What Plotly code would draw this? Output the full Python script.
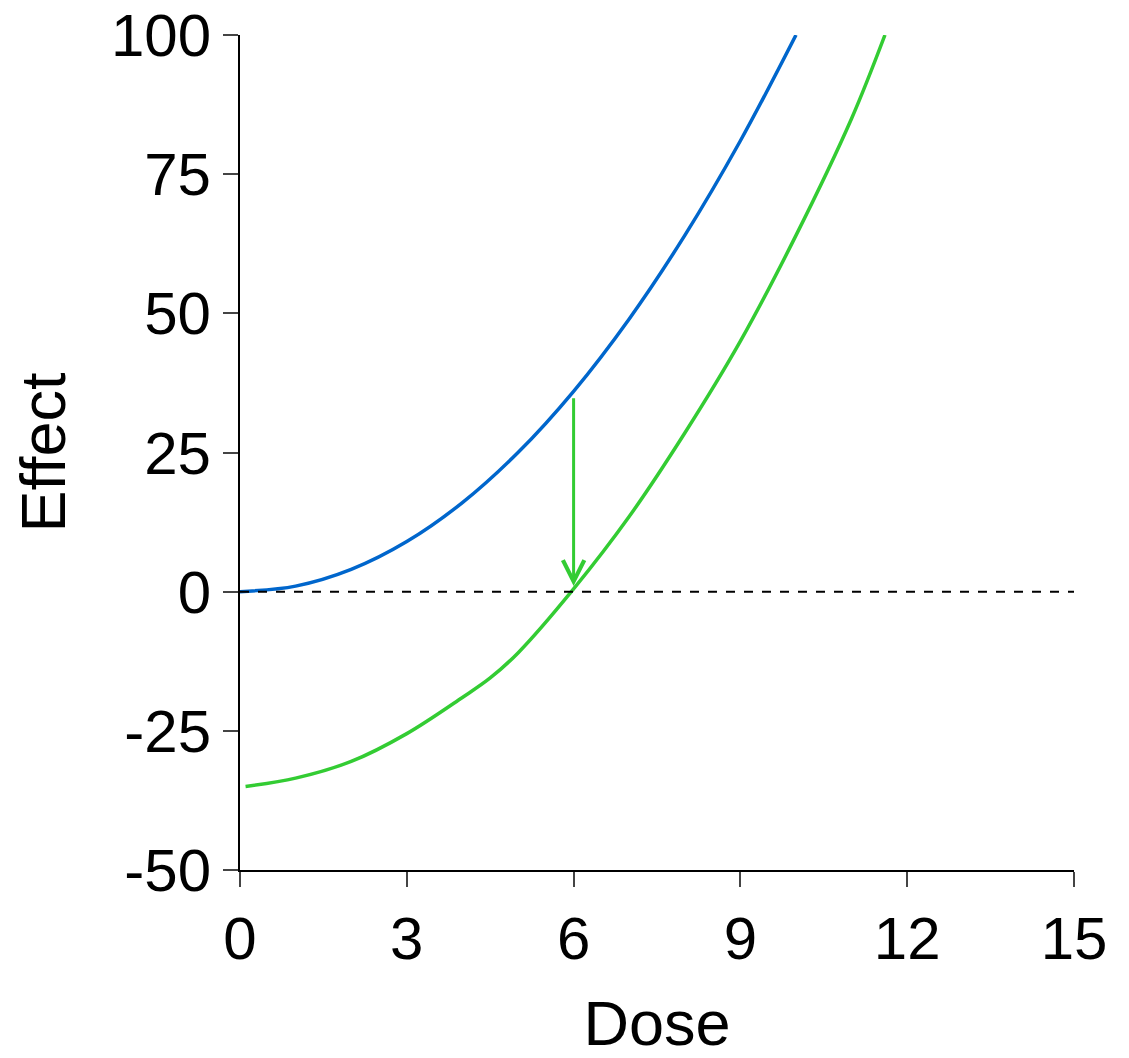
import plotly.graph_objects as go

# Data
blue_dose = [0, 1, 2, 3, 4, 5, 6, 7, 8, 9, 10]
blue_effect = [0, 1, 4, 9, 16, 25, 36, 49, 64, 81, 100]

green_dose = [0.1, 1, 2, 3, 4, 4.5, 5, 6, 7, 8, 9, 10, 11, 11.6]
green_effect = [-35, -33.5, -30.5, -25.5, -19, -15.5, -11, 0.5, 13.5, 28.5, 45, 64, 85, 100]

arrow_x = 6
arrow_from = 35
arrow_to = 1

x_ticks = [0, 3, 6, 9, 12, 15]
y_ticks = [-50, -25, 0, 25, 50, 75, 100]
y_tick_labels = ["-50", "-25", "0", "25", "50", "75", "100"]

FONT = "Liberation Sans, Arial, sans-serif"

fig = go.Figure()
fig.add_trace(go.Scatter(x=blue_dose, y=blue_effect, mode="lines",
                         line=dict(color="#0066CC", width=3.5, shape="spline"),
                         showlegend=False, hoverinfo="skip"))
fig.add_trace(go.Scatter(x=green_dose, y=green_effect, mode="lines",
                         line=dict(color="#33CC33", width=3.5, shape="spline"),
                         showlegend=False, hoverinfo="skip"))

fig.add_shape(type="line", x0=0, x1=15, y0=0, y1=0, xref="x", yref="y",
              line=dict(color="black", width=2, dash="dash"))

fig.add_annotation(x=arrow_x, y=arrow_to, ax=arrow_x, ay=arrow_from,
                   xref="x", yref="y", axref="x", ayref="y",
                   showarrow=True, arrowhead=5, arrowsize=1.4, arrowwidth=3,
                   arrowcolor="#33CC33", text="")

fig.update_layout(
    width=1121, height=1050,
    margin=dict(l=232, r=55, t=27, b=188),
    plot_bgcolor="white", paper_bgcolor="white",
    font=dict(family=FONT, size=60, color="black"),
)
fig.update_xaxes(range=[0, 15], tickvals=x_ticks, ticks="outside", ticklen=15,
                 tickwidth=2, linecolor="black", linewidth=2, showline=True,
                 showgrid=False, zeroline=False, tickfont=dict(size=60),
                 automargin=False, ticklabeloverflow="allow",
                 title=dict(text="Dose", font=dict(size=63), standoff=42))
fig.update_yaxes(range=[-50, 100], tickvals=y_ticks, ticktext=y_tick_labels,
                 ticks="outside", ticklen=15,
                 tickwidth=2, linecolor="black", linewidth=2, showline=True,
                 showgrid=False, zeroline=False, tickfont=dict(size=60),
                 automargin=False, ticklabeloverflow="allow",
                 title=dict(text="Effect", font=dict(size=63), standoff=29))

fig.write_html("out.html")
